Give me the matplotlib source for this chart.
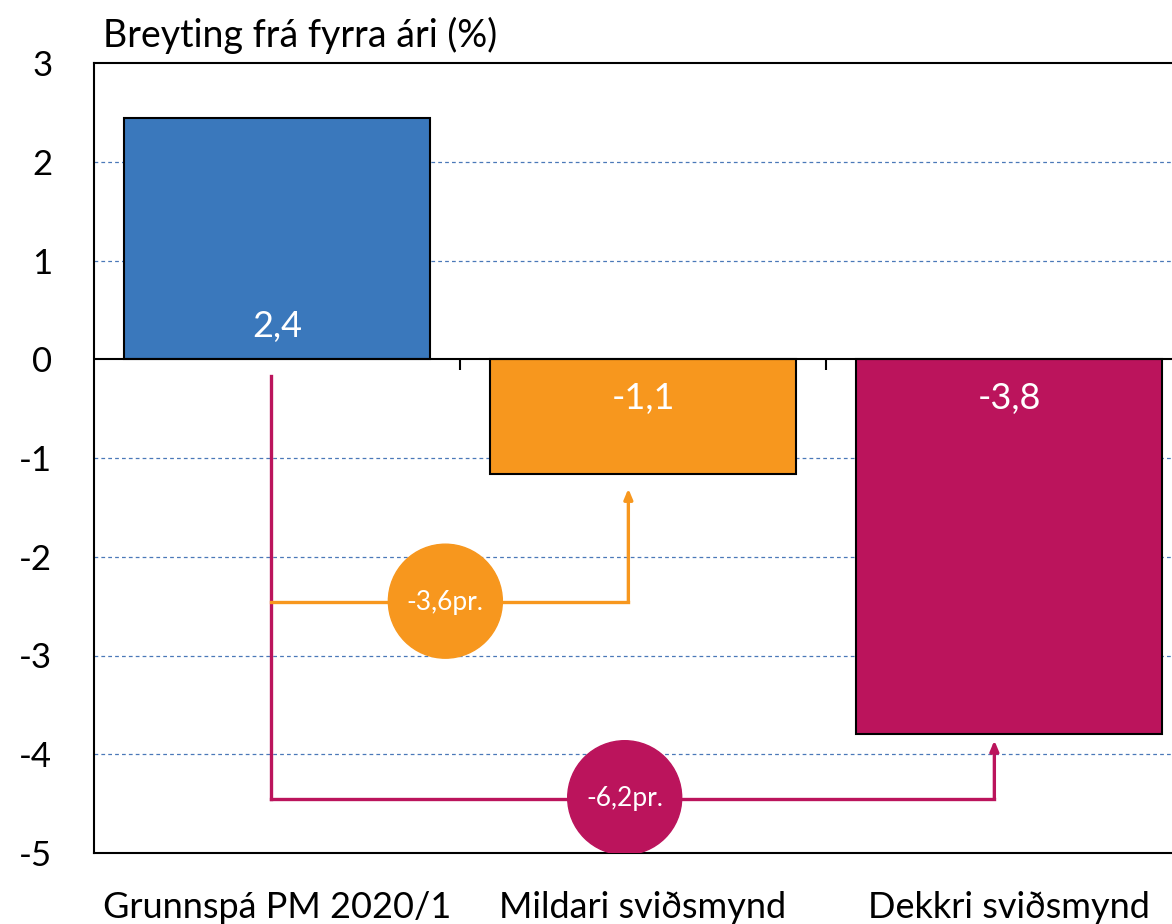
import matplotlib.pyplot as plt
from matplotlib.patches import Ellipse

plt.rcParams['font.family'] = ['Lato', 'DejaVu Sans']

categories = ['Grunnspá PM 2020/1', 'Mildari sviðsmynd', 'Dekkri sviðsmynd']
values = [2.44, -1.16, -3.79]
value_labels = ['2,4', '-1,1', '-3,8']
colors = ['#3a78bc', '#f7971e', '#bb145c']

# munur frá grunnspá
diff_labels = ['-3,6pr.', '-6,2pr.']
diff_colors = ['#f7971e', '#bb145c']
diff_level = [-2.46, -4.45]
diff_target_x = [0.96, 1.96]
diff_tip = [-1.31, -3.86]
diff_circle_x = [0.46, 0.95]

fig = plt.figure(figsize=(11.72, 9.24), dpi=100)
ax = fig.add_axes([94/1172, 71/924, 1098/1172, 790/924])

x = list(range(len(categories)))
ax.bar(x, values, width=0.836, color=colors, edgecolor='black', linewidth=1.5, zorder=3)

ax.set_xlim(-0.5, 2.5)
ax.set_ylim(-5, 3)
ax.set_yticks(range(-5, 4))
ax.set_yticklabels([str(v) for v in range(-5, 4)])
ax.set_xticks(x)
ax.set_xticklabels(categories)
ax.tick_params(axis='x', length=0, labelsize=26, pad=27)
ax.tick_params(axis='y', length=0, labelsize=25, pad=30)

for v in [-4, -3, -2, -1, 1, 2]:
    ax.axhline(v, color='#4a78b8', lw=0.9, ls=(0, (3, 2.5)), zorder=1)
ax.axhline(0, color='black', lw=1.5, zorder=4)
ax.vlines([0.5, 1.5], -0.11, 0, color='black', lw=1.5, zorder=4)

for sp in ['left', 'top', 'bottom']:
    ax.spines[sp].set_linewidth(1.5)
ax.spines['right'].set_visible(False)

label_y = [0.33, -0.4, -0.4]
for xi, lab, ly in zip(x, value_labels, label_y):
    ax.text(xi, ly, lab, ha='center', va='center', color='white', fontsize=26, zorder=5)

# lína frá grunnspá niður
ax.plot([-0.016, -0.016], [-0.17, diff_level[1]], color=diff_colors[1], lw=2.4, zorder=5)

for lab, c, lvl, tx, tip, cx in zip(diff_labels, diff_colors, diff_level,
                                   diff_target_x, diff_tip, diff_circle_x):
    ax.plot([-0.016, tx], [lvl, lvl], color=c, lw=2.4, zorder=5)
    ax.annotate('', xy=(tx, tip), xytext=(tx, lvl),
                arrowprops=dict(arrowstyle='-|>,head_length=0.6,head_width=0.25',
                                color=c, lw=2.4, shrinkA=0, shrinkB=0), zorder=5)
    ax.add_patch(Ellipse((cx, lvl + 0.01), 114/366, 114/98.75, color=c, zorder=6))
    ax.text(cx, lvl, lab, ha='center', va='center', color='white', fontsize=19, zorder=7)

fig.text(103/1172, 1 - 35/924, 'Breyting frá fyrra ári (%)', ha='left', va='center', fontsize=27)

fig.savefig('out.png', dpi=100)
